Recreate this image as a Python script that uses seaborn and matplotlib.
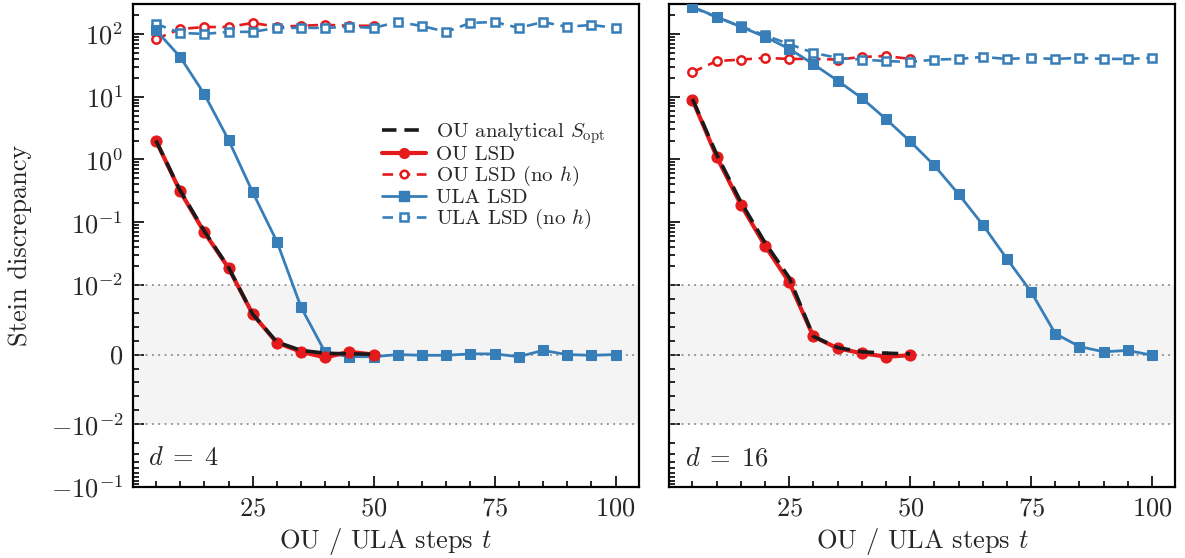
import numpy as np
import pandas as pd
import matplotlib
matplotlib.use("Agg")
import matplotlib.pyplot as plt
import seaborn as sns
from matplotlib.ticker import FixedLocator
from matplotlib.lines import Line2D

# ---------------- data ----------------
t_ou = [5, 10, 15, 20, 25, 30, 35, 40, 45, 50]
t_ula = [5, 10, 15, 20, 25, 30, 35, 40, 45, 50, 55, 60, 65, 70, 75, 80, 85, 90, 95, 100]

d4_ou_exact = [2.0, 0.32, 0.072, 0.019, 0.0058, 0.0018, 0.0006, 0.0002, 0.0001, 0.00005]
d4_ou_lsd = [2.0, 0.31, 0.069, 0.0186, 0.0058, 0.0017, 0.0004, -0.0004, 0.0004, 0.0]
d4_ou_noh = [83, 120, 129, 129, 150, 130, 135, 140, 135, 135]
d4_ula_lsd = [115, 43, 11, 2.05, 0.30, 0.049, 0.0068, 0.0003, -0.0003, -0.0003,
              0.0, -0.0001, -0.0001, 0.0001, 0.0001, -0.0003, 0.0006, 0.0, -0.0001, 0.0]
d4_ula_noh = [145, 104, 100, 108, 108, 125, 125, 125, 130, 125,
              155, 134, 108, 150, 155, 125, 155, 130, 139, 125]

d16_ou_exact = [9.2, 1.2, 0.21, 0.047, 0.013, 0.0026, 0.001, 0.0004, 0.0002, 0.0001]
d16_ou_lsd = [8.9, 1.1, 0.19, 0.042, 0.011, 0.0026, 0.0009, 0.0002, -0.0003, -0.0001]
d16_ou_noh = [24.6, 37, 39, 41.5, 40, 40, 39, 43, 44.5, 40]
d16_ula_lsd = [270, 187, 130, 90, 58, 33, 18, 9.5, 4.4, 1.94,
               0.8, 0.28, 0.091, 0.026, 0.009, 0.003, 0.00115, 0.0004, 0.0006, -0.0001]
d16_ula_noh = [265, 185, 132, 95, 69, 50, 41.5, 39, 37, 35.7,
               39, 40, 43, 40, 41.5, 40, 41.5, 40, 40, 41.5]

panels = [("$d\\;=\\;4$", d4_ou_exact, d4_ou_lsd, d4_ou_noh, d4_ula_lsd, d4_ula_noh),
          ("$d\\;=\\;16$", d16_ou_exact, d16_ou_lsd, d16_ou_noh, d16_ula_lsd, d16_ula_noh)]

labels = ["OU analytical $S_{\\rm opt}$", "OU LSD", "OU LSD (no $h$)", "ULA LSD", "ULA LSD (no $h$)"]
RED = "#e41a1c"
BLUE = "#377eb8"

# ---------------- style ----------------
sns.set_style("ticks")
plt.rcParams["font.family"] = ["cmr10", "DejaVu Serif"]
plt.rcParams["mathtext.fontset"] = "cm"
plt.rcParams["axes.formatter.use_mathtext"] = True
plt.rcParams["axes.unicode_minus"] = False
plt.rcParams["axes.linewidth"] = 1.6

fig, axes = plt.subplots(1, 2, figsize=(11.85, 5.58), dpi=100, sharey=True)
fig.subplots_adjust(left=0.1122, right=0.9916, bottom=0.1272, top=0.9928, wspace=0.0613)

lin = 1e-2
minor = []
for dec in [1e-2, 1e-1, 1e0, 1e1, 1e2]:
    minor += [k * dec for k in range(2, 10)]
minor += [-k * 1e-2 for k in range(2, 10)]
minor += [k * 0.002 for k in (-4, -3, -2, -1, 1, 2, 3, 4)]

for ax, (dlabel, ex, lsd, noh, ula, ulanoh) in zip(axes, panels):
    ax.set_yscale("symlog", linthresh=lin, linscale=1)
    ax.axhspan(-lin, lin, color="#f4f4f4", zorder=0, lw=0)
    for yy in (-lin, 0, lin):
        ax.axhline(yy, color="#8c8c8c", ls=(0, (1, 2.5)), lw=1.3, zorder=1)

    sns.lineplot(x=t_ou, y=noh, ax=ax, color=RED, lw=1.9, ls=(0, (4, 2.5)),
                 marker="o", ms=6, mfc="white", mec=RED, mew=1.8, zorder=3)
    sns.lineplot(x=t_ula, y=ulanoh, ax=ax, color=BLUE, lw=1.9, ls=(0, (4, 2.5)),
                 marker="s", ms=6, mfc="white", mec=BLUE, mew=1.8, zorder=3)
    sns.lineplot(x=t_ula, y=ula, ax=ax, color=BLUE, lw=2.0, ls="-",
                 marker="s", ms=7.5, mec=BLUE, zorder=4)
    sns.lineplot(x=t_ou, y=lsd, ax=ax, color=RED, lw=3.0, ls="-",
                 marker="o", ms=8, mec=RED, zorder=5)
    sns.lineplot(x=t_ou, y=ex, ax=ax, color="#1a1a1a", lw=2.6, ls=(0, (4.5, 2.2)),
                 zorder=6)

    ax.set_ylim(-0.1, 300)
    ax.set_xlim(0.25, 104.75)
    ax.set_xticks([25, 50, 75, 100])
    ax.xaxis.set_minor_locator(FixedLocator(np.arange(5, 101, 5)))
    ax.set_yticks([-1e-1, -1e-2, 0, 1e-2, 1e-1, 1e0, 1e1, 1e2])
    ax.yaxis.set_minor_locator(FixedLocator(minor))
    ax.tick_params(which="both", direction="in", top=False, right=False, width=1.4)
    ax.tick_params(which="major", length=8, labelsize=19, pad=7)
    ax.tick_params(which="minor", length=4.5)
    ax.set_xlabel("OU / ULA steps $t$", fontsize=19, labelpad=4)
    ax.text(0.03, 0.035, dlabel, transform=ax.transAxes, fontsize=19,
            ha="left", va="bottom")
    for s in ax.spines.values():
        s.set_visible(True)
        s.set_linewidth(1.6)
        s.set_color("black")
    if ax.get_legend() is not None:
        ax.get_legend().remove()

axes[0].set_ylabel("Stein discrepancy", fontsize=19, labelpad=13)
axes[1].set_ylabel("")
axes[1].tick_params(labelleft=False)

handles = [
    Line2D([], [], color="#1a1a1a", lw=2.6, ls=(0, (4, 2.2))),
    Line2D([], [], color=RED, lw=3.0, marker="o", ms=7),
    Line2D([], [], color=RED, lw=1.9, ls=(0, (4, 2.5)), marker="o", ms=5.5,
           mfc="white", mec=RED, mew=1.8),
    Line2D([], [], color=BLUE, lw=2.0, marker="s", ms=7),
    Line2D([], [], color=BLUE, lw=1.9, ls=(0, (4, 2.5)), marker="s", ms=5.5,
           mfc="white", mec=BLUE, mew=1.8),
]
axes[0].legend(handles, labels, loc="upper left", bbox_to_anchor=(0.493, 0.758),
               frameon=False, fontsize=15, handlelength=2.1, handletextpad=0.48,
               labelspacing=0.0, borderpad=0, borderaxespad=0)

fig.savefig("out.png", dpi=100)
